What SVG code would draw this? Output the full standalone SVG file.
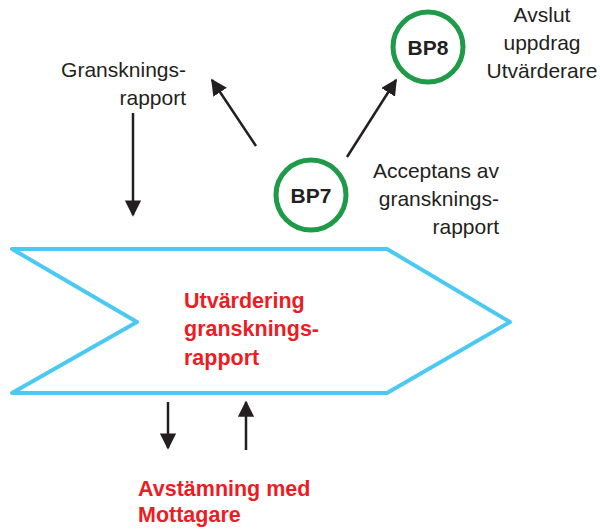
<svg xmlns="http://www.w3.org/2000/svg" width="600" height="529" viewBox="0 0 600 529">
<defs>
<style>
.t{font-family:"Liberation Sans",Arial,sans-serif;font-size:21px;fill:#231F20}
.r{font-family:"Liberation Sans",Arial,sans-serif;font-size:21.5px;font-weight:bold;fill:#ED1C24}
.b{font-family:"Liberation Sans",Arial,sans-serif;font-size:21px;font-weight:bold;fill:#231F20}
.c{fill:#fff;stroke:#1E9A48;stroke-width:5}
.ln{stroke:#231F20;stroke-width:2.5;fill:none;marker-end:url(#ah)}
</style>
<marker id="ah" viewBox="0 0 10 10" refX="9" refY="5" markerWidth="6.5" markerHeight="6.5" markerUnits="strokeWidth" orient="auto">
<path d="M0,0 L10,5 L0,10 z" fill="#231F20"/>
</marker>
</defs>
<rect width="600" height="529" fill="#fff"/>
<g id="connectors">
<line class="ln" x1="133" y1="113" x2="133" y2="215"/>
<line class="ln" x1="256" y1="146" x2="212" y2="80"/>
<line class="ln" x1="347" y1="157" x2="396" y2="80"/>
<line class="ln" x1="168" y1="402" x2="168" y2="448"/>
<line class="ln" x1="246" y1="450" x2="246" y2="402"/>
</g>
<g id="process">
<polygon points="12,249 387,249 510,322 387,393 12,393 137,322" fill="none" stroke="#4CC9F3" stroke-width="4" stroke-linejoin="round"/>
<text class="r" x="184" y="308">Utvärdering</text>
<text class="r" x="184" y="336">gransknings-</text>
<text class="r" x="184" y="365">rapport</text>
</g>
<g id="BP7">
<circle class="c" cx="311" cy="195" r="35"/>
<text class="b" x="311" y="203" text-anchor="middle">BP7</text>
</g>
<g id="BP8">
<circle class="c" cx="428" cy="47" r="35"/>
<text class="b" x="428" y="55" text-anchor="middle">BP8</text>
</g>
<g id="label-granskningsrapport">
<text class="t" x="186" y="77" text-anchor="end">Gransknings-</text>
<text class="t" x="186" y="105" text-anchor="end">rapport</text>
</g>
<g id="label-avslut">
<text class="t" x="542" y="22" text-anchor="middle">Avslut</text>
<text class="t" x="542" y="50" text-anchor="middle">uppdrag</text>
<text class="t" x="542" y="78" text-anchor="middle">Utvärderare</text>
</g>
<g id="label-acceptans">
<text class="t" x="499" y="178" text-anchor="end">Acceptans av</text>
<text class="t" x="499" y="206" text-anchor="end">gransknings-</text>
<text class="t" x="499" y="234" text-anchor="end">rapport</text>
</g>
<g id="label-avstamning">
<text class="r" x="138" y="496">Avstämning med</text>
<text class="r" x="138" y="522">Mottagare</text>
</g>
</svg>
